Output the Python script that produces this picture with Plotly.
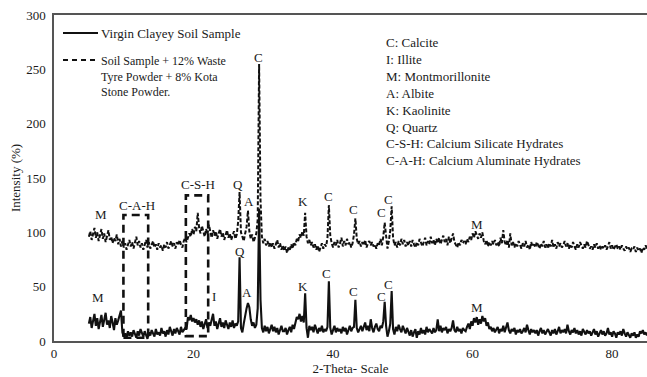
import numpy as np
import plotly.graph_objects as go

# 2-theta grid (degrees), 0.2 deg step from 5 to 85
two_theta = np.round(np.arange(5.0, 85.0001, 0.2), 1)

# Virgin clayey soil: intensity (%) per 0.2 deg, one row = 2 deg
virgin = [
    16, 22, 12, 19, 25, 14, 21, 11, 18, 24,   # 5.0
    13, 20, 26, 15, 19, 12, 23, 17, 10, 21,   # 7.0
    15, 19, 24, 28, 8, 4, 7, 3, 9, 5,         # 9.0
    8, 4, 10, 6, 3, 9, 5, 11, 7, 4,           # 11.0
    9, 6, 2, 8, 5, 10, 7, 4, 11, 6,           # 13.0
    8, 5, 12, 7, 9, 4, 10, 6, 13, 8,          # 15.0
    5, 11, 7, 12, 9, 6, 13, 8, 10, 12,        # 17.0
    11, 22, 19, 24, 18, 21, 17, 20, 15, 19,   # 19.0
    13, 18, 11, 16, 20, 12, 17, 14, 19, 25,   # 21.0
    14, 18, 11, 16, 21, 13, 17, 12, 19, 15,   # 23.0
    11, 17, 13, 19, 12, 16, 14, 18, 77, 12,   # 25.0
    8, 16, 24, 30, 35, 31, 20, 14, 17, 12,    # 27.0
    15, 30, 122, 38, 12, 8, 14, 9, 13, 7,     # 29.0
    11, 15, 9, 13, 8, 12, 6, 10, 14, 9,       # 31.0
    9, 12, 6, 10, 13, 8, 15, 11, 18, 22,      # 33.0
    20, 25, 18, 23, 17, 44, 12, 3, 14, 10,    # 35.0
    13, 8, 15, 11, 7, 12, 9, 14, 8, 11,       # 37.0
    9, 13, 55, 12, 6, 10, 14, 8, 12, 9,       # 39.0
    11, 7, 13, 9, 12, 6, 10, 14, 9, 12,       # 41.0
    13, 38, 12, 8, 11, 14, 9, 13, 17, 10,     # 43.0
    14, 9, 20, 12, 8, 13, 16, 11, 9, 14,      # 45.0
    12, 18, 36, 14, 4, 9, 16, 46, 11, 6,      # 47.0
    13, 9, 15, 11, 8, 14, 10, 7, 12, 9,       # 49.0
    5, 10, 4, 8, 11, 3, 9, 6, 12, 7,          # 51.0
    10, 6, 13, 8, 11, 9, 7, 12, 8, 10,        # 53.0
    20, 9, 14, 8, 12, 10, 13, 7, 11, 9,       # 55.0
    12, 19, 10, 8, 13, 9, 11, 7, 12, 10,      # 57.0
    9, 13, 16, 11, 18, 14, 21, 17, 22, 15,    # 59.0
    20, 16, 23, 18, 21, 14, 17, 11, 13, 9,    # 61.0
    12, 8, 10, 13, 7, 11, 9, 14, 8, 12,       # 63.0
    17, 10, 7, 11, 9, 12, 6, 10, 8, 11,       # 65.0
    7, 9, 12, 8, 15, 10, 6, 11, 8, 10,        # 67.0
    7, 10, 5, 9, 12, 7, 10, 6, 9, 11,         # 69.0
    8, 5, 10, 7, 11, 6, 9, 13, 7, 10,         # 71.0
    8, 11, 7, 15, 9, 6, 10, 8, 12, 7,         # 73.0
    10, 6, 9, 5, 11, 8, 6, 10, 7, 9,          # 75.0
    5, 8, 11, 6, 9, 4, 8, 10, 6, 9,           # 77.0
    5, 7, 12, 6, 8, 4, 9, 7, 3, 8,            # 79.0
    6, 9, 5, 11, 7, 4, 8, 6, 3, 7,            # 81.0
    5, 8, 3, 6, 4, 9, 7, 10, 6, 8,            # 83.0
    5,                                        # 85.0
]

# Soil + 12% waste tyre powder + 8% Kota stone powder
treated = [
    96, 101, 93, 99, 104, 95, 100, 92, 98, 103,   # 5.0
    94, 99, 91, 97, 102, 93, 96, 90, 95, 92,      # 7.0
    98, 89, 94, 87, 92, 86, 90, 84, 89, 93,       # 9.0
    87, 91, 85, 90, 96, 88, 92, 86, 90, 84,       # 11.0
    89, 93, 86, 91, 85, 88, 92, 86, 89, 84,       # 13.0
    90, 86, 88, 83, 89, 86, 91, 85, 88, 92,       # 15.0
    87, 90, 85, 91, 88, 93, 89, 86, 92, 95,       # 17.0
    91, 95, 99, 96, 103, 98, 105, 101, 118, 104,  # 19.0
    99, 106, 101, 96, 103, 98, 107, 100, 95, 102, # 21.0
    97, 101, 94, 99, 103, 96, 100, 93, 98, 102,   # 23.0
    95, 99, 93, 97, 101, 94, 98, 110, 137, 100,   # 25.0
    96, 92, 99, 105, 120, 101, 94, 98, 91, 95,    # 27.0
    99, 112, 255, 130, 96, 90, 94, 88, 92, 87,    # 29.0
    91, 86, 90, 85, 89, 93, 86, 90, 84, 88,       # 31.0
    83, 87, 81, 86, 84, 89, 85, 91, 88, 94,       # 33.0
    92, 98, 95, 101, 97, 118, 96, 90, 93, 88,     # 35.0
    91, 86, 89, 84, 88, 82, 86, 90, 85, 89,       # 37.0
    87, 95, 125, 97, 90, 86, 91, 88, 93, 86,      # 39.0
    90, 95, 87, 92, 88, 94, 89, 91, 86, 90,       # 41.0
    98, 113, 94, 89, 92, 87, 91, 88, 93, 86,      # 43.0
    90, 92, 88, 91, 87, 89, 85, 90, 88, 94,       # 45.0
    88, 96, 109, 97, 85, 92, 102, 124, 95, 88,    # 47.0
    91, 86, 92, 88, 94, 89, 93, 87, 91, 88,       # 49.0
    92, 87, 93, 89, 86, 91, 88, 94, 90, 87,       # 51.0
    91, 95, 88, 92, 89, 96, 90, 93, 88, 94,       # 53.0
    90, 95, 89, 93, 97, 91, 94, 88, 96, 90,       # 55.0
    94, 99, 91, 88, 86, 91, 88, 93, 90, 92,       # 57.0
    89, 94, 91, 96, 93, 99, 95, 101, 97, 94,      # 59.0
    99, 95, 100, 92, 89, 93, 87, 91, 88, 92,      # 61.0
    89, 93, 88, 91, 87, 95, 90, 102, 91, 88,      # 63.0
    93, 86, 99, 88, 91, 86, 90, 87, 92, 88,       # 65.0
    85, 90, 87, 92, 86, 89, 84, 91, 87, 89,       # 67.0
    86, 91, 88, 85, 90, 87, 92, 86, 89, 85,       # 69.0
    90, 87, 93, 86, 89, 85, 91, 87, 90, 86,       # 71.0
    88, 92, 87, 90, 85, 89, 86, 91, 87, 84,       # 73.0
    89, 86, 91, 87, 85, 89, 86, 92, 88, 85,       # 75.0
    87, 84, 89, 86, 90, 85, 88, 84, 87, 85,       # 77.0
    88, 84, 87, 91, 85, 88, 84, 86, 89, 85,       # 79.0
    87, 84, 88, 85, 83, 87, 84, 86, 82, 85,       # 81.0
    84, 87, 82, 86, 83, 85, 81, 86, 84, 88,       # 83.0
    85,                                           # 85.0
]

# Phase labels over peaks: (text, 2-theta, label height)
virgin_labels = [
    ("M", 6.3, 40), ("I", 22.9, 41), ("Q", 26.6, 82), ("A", 27.7, 45),
    ("K", 35.7, 50), ("C", 39.1, 62), ("C", 42.9, 46), ("C", 46.9, 41),
    ("C", 47.9, 52), ("M", 60.6, 31),
]
treated_labels = [
    ("M", 6.7, 116), ("C-A-H", 11.9, 125), ("C-S-H", 20.7, 144),
    ("Q", 26.4, 144), ("A", 27.9, 128), ("C", 29.3, 261), ("K", 35.7, 128),
    ("C", 39.3, 133), ("C", 42.9, 121), ("C", 46.9, 118), ("C", 48.0, 130),
    ("M", 60.6, 107),
]

# Hydrate zones marked by dashed boxes: (2-theta from, to, intensity from, to)
hydrate_zones = [(9.95, 13.5, 3, 116), (18.9, 22.1, 4.5, 134)]

phase_key = [
    "C: Calcite", "I: Illite", "M: Montmorillonite", "A: Albite",
    "K: Kaolinite", "Q: Quartz", "C-S-H: Calcium Silicate Hydrates",
    "C-A-H: Calcium Aluminate Hydrates",
]

series_names = [
    "Virgin Clayey Soil Sample",
    "Soil Sample + 12% Waste<br>Tyre Powder + 8% Kota<br>Stone Powder.",
]

FONT = "Times New Roman, Liberation Serif, Times, serif"
INK = "#1a1a1a"
LINE = "#111111"

fig = go.Figure()
fig.add_trace(go.Scatter(
    x=two_theta, y=virgin, mode="lines", name=series_names[0],
    line=dict(color=LINE, width=2.1), showlegend=False,
))
fig.add_trace(go.Scatter(
    x=two_theta, y=treated, mode="lines",
    name=series_names[1].replace("<br>", " "),
    line=dict(color=LINE, width=2.0, dash="4px,2px"), showlegend=False,
))

annotations = []
for text, x, y in virgin_labels + treated_labels:
    annotations.append(dict(
        x=x, y=y, xref="x", yref="y", text=text, showarrow=False,
        font=dict(family=FONT, size=13, color=INK),
        xanchor="center", yanchor="middle",
    ))

# phase key block on the right
annotations.append(dict(
    x=0.557, y=1 - 18 / 326, xref="paper", yref="paper",
    text="<br>".join(phase_key), showarrow=False, xanchor="left",
    yanchor="top", align="left",
    font=dict(family=FONT, size=13, color=INK),
))

# series key block on the upper left
PX = 593
annotations.append(dict(
    x=(99 - 54) / PX, y=1 - 18 / 326, xref="paper", yref="paper",
    text=series_names[0], showarrow=False, xanchor="left", yanchor="middle",
    font=dict(family=FONT, size=13, color=INK),
))
annotations.append(dict(
    x=(99 - 54) / PX, y=1 - 37 / 326, xref="paper", yref="paper",
    text=series_names[1], showarrow=False, xanchor="left", yanchor="top",
    align="left", font=dict(family=FONT, size=12, color=INK),
))

shapes = []
for x0, x1, y0, y1 in hydrate_zones:
    shapes.append(dict(
        type="rect", xref="x", yref="y", x0=x0, x1=x1, y0=y0, y1=y1,
        line=dict(color=LINE, width=2.6, dash="8px,5px"),
        fillcolor="rgba(0,0,0,0)",
    ))
# key line samples
shapes.append(dict(
    type="line", xref="paper", yref="paper",
    x0=(63 - 54) / PX, x1=(98 - 54) / PX, y0=1 - 18 / 326, y1=1 - 18 / 326,
    line=dict(color=LINE, width=2),
))
shapes.append(dict(
    type="line", xref="paper", yref="paper",
    x0=(63 - 54) / PX, x1=(98 - 54) / PX, y0=1 - 45 / 326, y1=1 - 45 / 326,
    line=dict(color=LINE, width=2, dash="5px,4px"),
))

fig.update_layout(
    width=647, height=377,
    margin=dict(l=54, r=0, t=15, b=36),
    paper_bgcolor="white", plot_bgcolor="white",
    font=dict(family=FONT, size=13, color=INK),
    annotations=annotations, shapes=shapes,
    showlegend=False,
)
fig.update_xaxes(
    range=[0, 85], tickvals=[0, 20, 40, 60, 80], ticks="",
    showgrid=False, zeroline=False, showline=True, linecolor="#555555",
    linewidth=1.5, mirror=True,
    title=dict(text="2-Theta- Scale", standoff=4,
               font=dict(family=FONT, size=13, color=INK)),
    tickfont=dict(family=FONT, size=13, color=INK),
)
fig.update_yaxes(
    range=[0, 300], tickvals=[0, 50, 100, 150, 200, 250, 300], ticks="",
    showgrid=False, zeroline=False, showline=True, linecolor="#555555",
    linewidth=1.5, ticklabelstandoff=4,
    title=dict(text="Intensity (%)", standoff=3,
               font=dict(family=FONT, size=13, color=INK)),
    tickfont=dict(family=FONT, size=13, color=INK),
)

fig.write_html("out.html")
